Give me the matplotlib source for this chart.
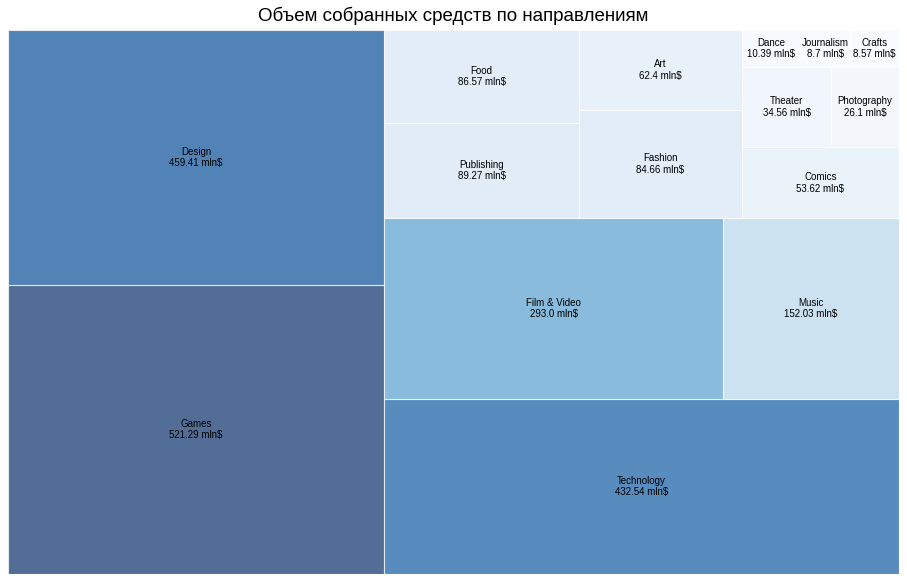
import numpy as np
import matplotlib
matplotlib.use('Agg')
import matplotlib.pyplot as plt

plt.rcParams['font.family'] = ['Liberation Sans', 'DejaVu Sans']

categories = ['Games', 'Design', 'Technology', 'Film & Video', 'Music',
              'Publishing', 'Food', 'Fashion', 'Art', 'Comics',
              'Theater', 'Photography', 'Dance', 'Journalism', 'Crafts']
pledged = [521.29, 459.41, 432.54, 293.0, 152.03,
           89.27, 86.57, 84.66, 62.4, 53.62,
           34.56, 26.1, 10.39, 8.7, 8.57]


# squarify algorithm (Bruls et al.), same as the squarify package
def layoutrow(sizes, x, y, dx, dy):
    covered = sum(sizes)
    width = covered / dy
    rects = []
    for s in sizes:
        rects.append({'x': x, 'y': y, 'dx': width, 'dy': s / width})
        y += s / width
    return rects


def layoutcol(sizes, x, y, dx, dy):
    covered = sum(sizes)
    height = covered / dx
    rects = []
    for s in sizes:
        rects.append({'x': x, 'y': y, 'dx': s / height, 'dy': height})
        x += s / height
    return rects


def layout(sizes, x, y, dx, dy):
    return layoutrow(sizes, x, y, dx, dy) if dx >= dy else layoutcol(sizes, x, y, dx, dy)


def leftoverrow(sizes, x, y, dx, dy):
    covered = sum(sizes)
    width = covered / dy
    return x + width, y, dx - width, dy


def leftovercol(sizes, x, y, dx, dy):
    covered = sum(sizes)
    height = covered / dx
    return x, y + height, dx, dy - height


def leftover(sizes, x, y, dx, dy):
    return leftoverrow(sizes, x, y, dx, dy) if dx >= dy else leftovercol(sizes, x, y, dx, dy)


def worst_ratio(sizes, x, y, dx, dy):
    return max(max(r['dx'] / r['dy'], r['dy'] / r['dx']) for r in layout(sizes, x, y, dx, dy))


def squarify(sizes, x, y, dx, dy):
    sizes = list(sizes)
    if len(sizes) == 0:
        return []
    if len(sizes) == 1:
        return layout(sizes, x, y, dx, dy)
    i = 1
    while i < len(sizes) and worst_ratio(sizes[:i], x, y, dx, dy) >= worst_ratio(sizes[:i + 1], x, y, dx, dy):
        i += 1
    current = sizes[:i]
    remaining = sizes[i:]
    lx, ly, ldx, ldy = leftover(current, x, y, dx, dy)
    return layout(current, x, y, dx, dy) + squarify(remaining, lx, ly, ldx, ldy)


W, H = 100, 100
total = sum(pledged)
norm = [v * W * H / total for v in pledged]
rects = squarify(norm, 0, 0, W, H)

vmax = max(pledged)
colors = [plt.cm.Blues(v / vmax) for v in pledged]

fig = plt.figure(figsize=(9.07, 5.81), dpi=100)
ax = fig.add_axes([8 / 907, 7 / 581, 891 / 907, 544 / 581])

ax.bar([r['x'] for r in rects], [r['dy'] for r in rects],
       width=[r['dx'] for r in rects], bottom=[r['y'] for r in rects],
       color=colors, alpha=0.7, align='edge', edgecolor='white', linewidth=0.8)

for r, name, v in zip(rects, categories, pledged):
    ax.text(r['x'] + r['dx'] / 2, r['y'] + r['dy'] / 2, f"{name}\n{v} mln$",
            va='center', ha='center', fontsize=7, color='black')

ax.set_xlim(0, W)
ax.set_ylim(0, H)
ax.axis('off')
fig.suptitle('Объем собранных средств по направлениям', fontsize=13.5, y=0.988, va='top')

plt.savefig('out.png', dpi=100)
